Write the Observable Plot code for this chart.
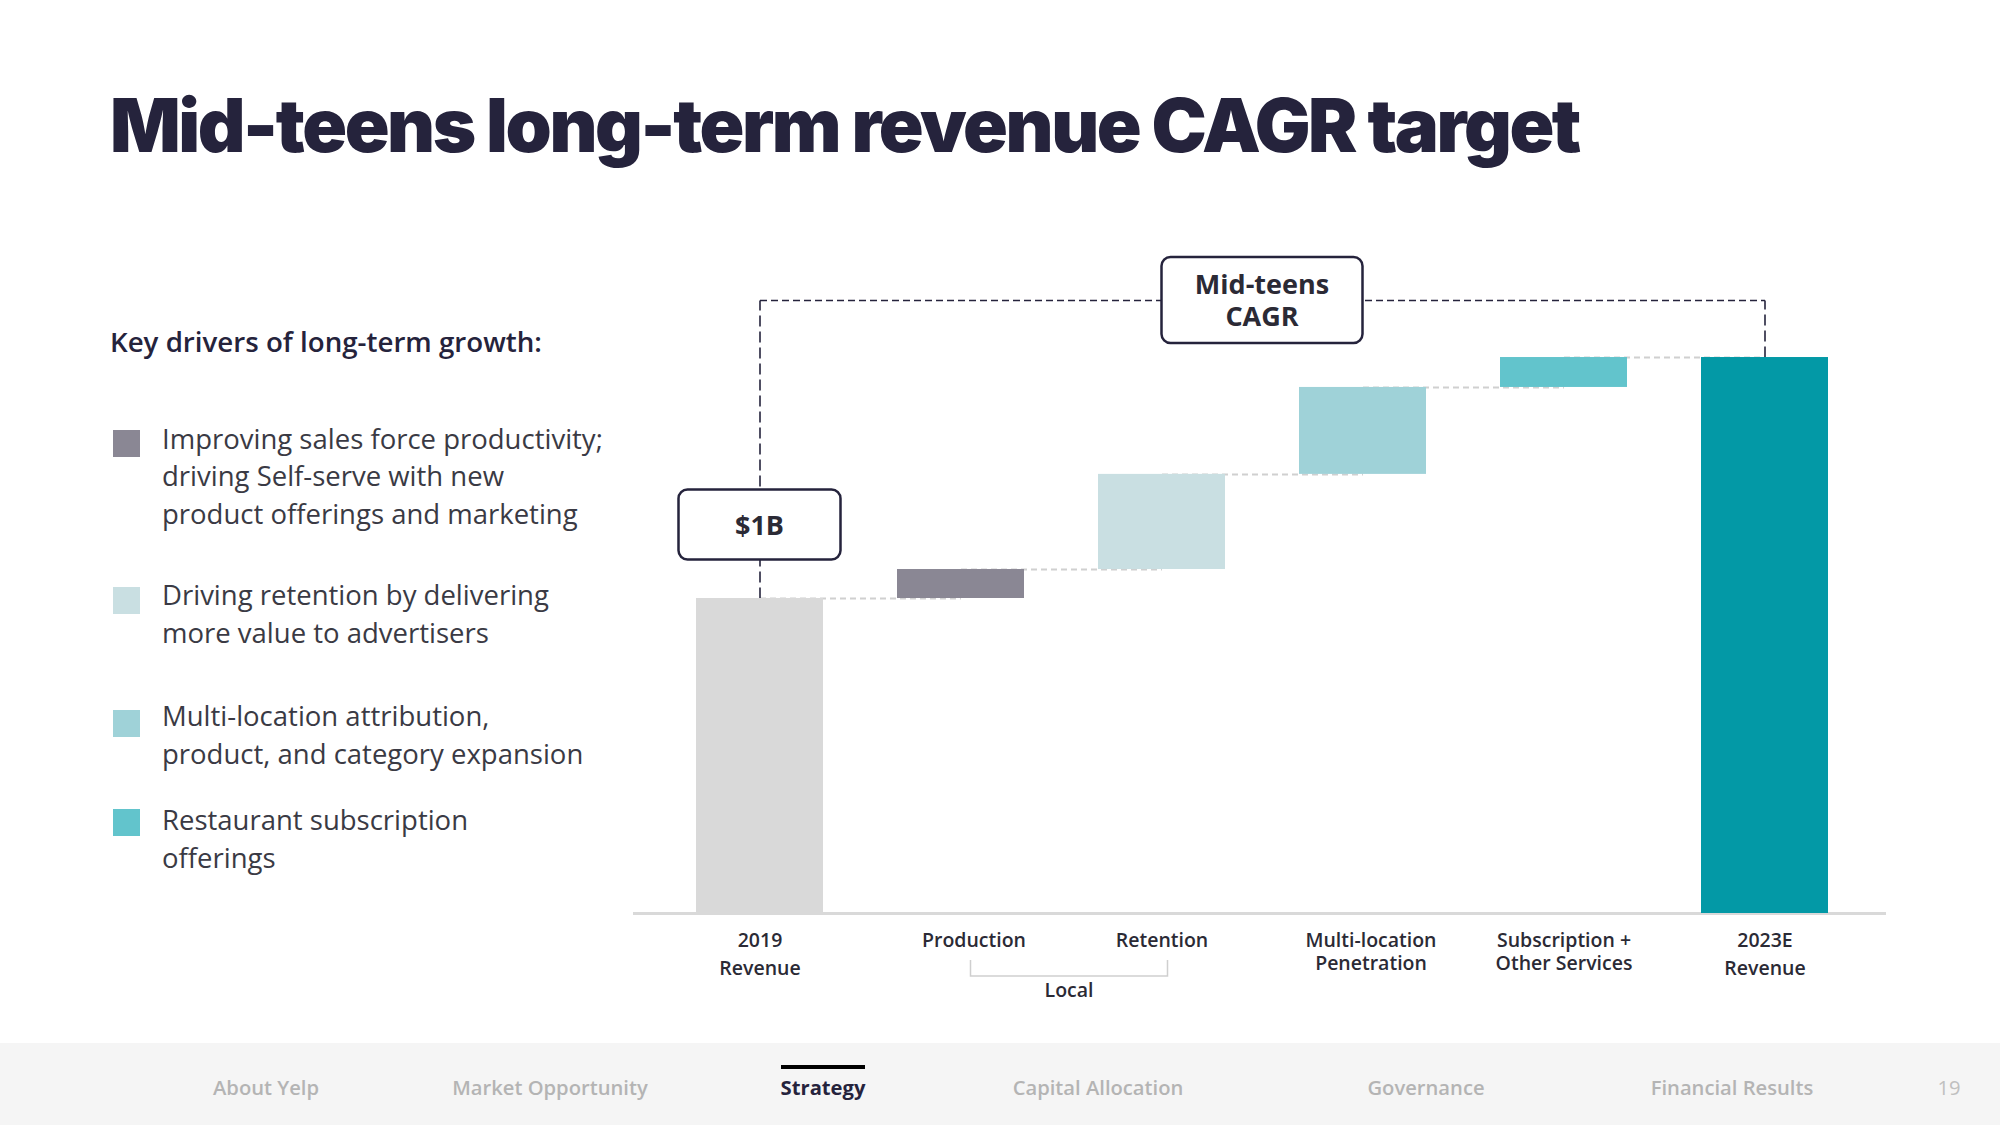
<!DOCTYPE html>
<html>
<head>
<meta charset="utf-8">
<script src="https://cdn.jsdelivr.net/npm/d3@7"></script>
<script src="https://cdn.jsdelivr.net/npm/@observablehq/plot@0.6"></script>
<style>
html, body { margin: 0; padding: 0; background: #fff; }
#page { position: relative; width: 2000px; height: 1125px; overflow: hidden; font-family: "Open Sans", sans-serif; background: #fff; }
#title { position: absolute; left: 110px; top: 88px; font-family: Inter, "Open Sans", sans-serif; font-weight: 900; font-size: 74px; line-height: 1; color: #25233c; white-space: nowrap; }
#heading { position: absolute; left: 110px; top: 327.5px; font-size: 27.7px; font-weight: 600; line-height: 1; color: #25233c; white-space: nowrap; }
.item { position: absolute; left: 162px; font-size: 27.5px; line-height: 37.5px; color: #3a3a44; white-space: pre-line; }
.sw { position: absolute; left: 113px; width: 27px; height: 27px; }
#chart { position: absolute; left: 620px; top: 240px; }
#footer { position: absolute; left: 0; top: 1043px; width: 2000px; height: 82px; background: #f5f5f5; }
.nav { position: absolute; top: 34px; transform: translateX(-50%); font-size: 20.2px; font-weight: 600; color: #b4b4b4; white-space: nowrap; line-height: 1; }
.nav.active { color: #25233c; font-weight: 700; }
.bar { position: absolute; top: 22px; height: 4px; background: #000; }
</style>
</head>
<body>
<div id="page">
  <div id="title">Mid-teens long-term revenue CAGR target</div>
  <div id="heading">Key drivers of long-term growth:</div>
  <div id="legend"></div>
  <div id="chart"></div>
  <div id="footer"></div>
</div>
<script>
// ---------- Data ----------
const categories = ["2019 Revenue", "Production", "Retention", "Multi-location Penetration", "Subscription + Other Services", "2023E Revenue"];
const tickLabels = ["2019\nRevenue", "Production", "Retention", "Multi-location\nPenetration", "Subscription +\nOther Services", "2023E\nRevenue"];
const kinds = ["total", "delta", "delta", "delta", "delta", "total"];
const values = [1.0, 0.092, 0.302, 0.276, 0.095, 1.765]; // $B
const groupLabel = "Local";
const groupMembers = ["Production", "Retention"];
const startLabel = "$1B";
const cagrLabel = "Mid-teens\nCAGR";
const legendCategories = ["Production", "Retention", "Multi-location Penetration", "Subscription + Other Services"];
const legendLabels = [
  "Improving sales force productivity;\ndriving Self-serve with new\nproduct offerings and marketing",
  "Driving retention by delivering\nmore value to advertisers",
  "Multi-location attribution,\nproduct, and category expansion",
  "Restaurant subscription\nofferings"
];
const navLabels = ["About Yelp", "Market Opportunity", "Strategy", "Capital Allocation", "Governance", "Financial Results"];
const activeNav = "Strategy";
const pageNumber = "19";

// ---------- Styles / layout ----------
const barColors = ["#d9d9d9", "#8a8794", "#c9dfe2", "#9fd2d8", "#62c4cc", "#0399a6"];
const ink = "#25233c";
const cagrLevel = 1.946;     // annotation level, $B units
const startBoxLevel = 1.233; // annotation level, $B units
const legendTops = [419.6, 576.3, 697.3, 801.3];
const legendSwatchTops = [429.6, 586.5, 709.6, 809];
const labelShift = [0, 13, 0, 8, 0, 0];
const navX = [266, 550, 823, 1098, 1426, 1732];

// ---------- Derived table ----------
let run = 0;
const rows = categories.map((c, i) => {
  let y1, y2;
  if (kinds[i] === "total") { y1 = 0; y2 = values[i]; }
  else { y1 = run; y2 = run + values[i]; }
  run = y2;
  return {name: c, label: tickLabels[i], y1, y2};
});
const connectors = rows.slice(0, -1).map((r, i) => ({x1: r.name, x2: rows[i + 1].name, y: r.y2}));
const first = rows[0], last = rows[rows.length - 1];
const bracketLinks = [
  {x1: first.name, x2: first.name, y1: first.y2, y2: cagrLevel},
  {x1: last.name, x2: last.name, y1: last.y2, y2: cagrLevel}
];
const topLink = [{x1: first.name, x2: last.name, y: cagrLevel}];

const center = (x, c) => x(c) + x.bandwidth() / 2;

function boxMark(index, scales, values, dims) {
  const {x, y} = scales;
  const g = d3.create("svg:g");
  const drawBox = (cx, cy, w, h, label) => {
    const lines = label.split("\n");
    g.append("rect").attr("x", cx - w / 2).attr("y", cy - h / 2).attr("width", w).attr("height", h)
      .attr("rx", 9).attr("fill", "#fff").attr("stroke", ink).attr("stroke-width", 2.5);
    const t = g.append("text").attr("text-anchor", "middle").attr("font-family", "Open Sans")
      .attr("font-weight", 700).attr("font-size", 27).attr("fill", "#2b2a35");
    lines.forEach((s, k) => {
      t.append("tspan").attr("x", cx).attr("y", cy + (k - (lines.length - 1) / 2) * 32.5 + 10).text(s);
    });
  };
  const midX = (center(x, categories[2]) + center(x, categories[3])) / 2;
  drawBox(midX, y(cagrLevel), 201, 86, cagrLabel);
  drawBox(center(x, first.name), y(startBoxLevel), 162, 70, startLabel);
  return g.node();
}

function groupMark(index, scales, values, dims) {
  const {x} = scales;
  const bottom = dims.height - dims.marginBottom;
  const xa = center(x, groupMembers[0]) + 10, xb = center(x, groupMembers[1]) + 6;
  const g = d3.create("svg:g");
  g.append("path").attr("d", `M${xa},${bottom + 47}V${bottom + 63}H${xb}V${bottom + 47}`)
    .attr("fill", "none").attr("stroke", "#cfcfcf").attr("stroke-width", 1.5);
  g.append("text").attr("x", (xa + xb) / 2).attr("y", bottom + 84).attr("text-anchor", "middle")
    .attr("font-family", "Open Sans").attr("font-weight", 600).attr("font-size", 19.5).attr("fill", "#2b2a35").text(groupLabel);
  return g.node();
}

const labelFont = {fontFamily: "Open Sans", fontWeight: 600, fontSize: 19.5, fill: "#2b2a35", frameAnchor: "bottom", lineAnchor: "top"};
const isRevenue = r => /Revenue/.test(r.name);
const labelMarks = rows.map((r, i) =>
  Plot.text([r], {x: "name", text: "label", ...labelFont,
    lineHeight: isRevenue(r) ? 1.4 : 1.19,
    dy: isRevenue(r) ? 14.6 : 17,
    dx: labelShift[i]})
);

const plot = Plot.plot({
  width: 1300,
  height: 780,
  marginLeft: 13,
  marginRight: 34,
  marginTop: 11.5,
  marginBottom: 107,
  style: {fontFamily: "Open Sans", background: "transparent", overflow: "visible"},
  x: {type: "band", domain: categories, range: [2, 1282], padding: 0.368, axis: null},
  y: {domain: [0, 2.1], axis: null},
  color: {domain: categories, range: barColors},
  marks: [
    Plot.ruleY([0], {stroke: "#d9d9d9", strokeWidth: 3}),
    Plot.link(connectors, {x1: "x1", x2: "x2", y1: "y", y2: "y", stroke: "#d0d0d0", strokeWidth: 2, strokeDasharray: "6,4"}),
    Plot.link(bracketLinks, {x1: "x1", x2: "x2", y1: "y1", y2: "y2", stroke: ink, strokeWidth: 1.6, strokeDasharray: "11,5"}),
    Plot.link(topLink, {x1: "x1", x2: "x2", y1: "y", y2: "y", stroke: ink, strokeWidth: 1.6, strokeDasharray: "7,4"}),
    Plot.barY(rows, {x: "name", y1: "y1", y2: "y2", fill: "name"}),
    boxMark,
    ...labelMarks,
    groupMark
  ]
});
document.getElementById("chart").appendChild(plot);

// ---------- Legend (colors from the chart's color scale) ----------
const colorScale = plot.scale("color");
const legend = document.getElementById("legend");
legendCategories.forEach((c, i) => {
  const sw = document.createElement("div");
  sw.className = "sw";
  sw.style.top = legendSwatchTops[i] + "px";
  sw.style.background = colorScale.apply(c);
  legend.appendChild(sw);
  const t = document.createElement("div");
  t.className = "item";
  t.style.top = legendTops[i] + "px";
  t.textContent = legendLabels[i];
  legend.appendChild(t);
});

// ---------- Footer ----------
const footer = document.getElementById("footer");
navLabels.forEach((n, i) => {
  const d = document.createElement("div");
  d.className = "nav" + (n === activeNav ? " active" : "");
  d.style.left = navX[i] + "px";
  d.textContent = n;
  footer.appendChild(d);
  if (n === activeNav) {
    const b = document.createElement("div");
    b.className = "bar";
    footer.appendChild(b);
    const w = d.getBoundingClientRect().width;
    b.style.left = (navX[i] - w / 2) + "px";
    b.style.width = w + "px";
  }
});
const pn = document.createElement("div");
pn.className = "nav";
pn.style.left = "1949px";
pn.style.fontWeight = 400;
pn.style.color = "#c0c0c0";
pn.textContent = pageNumber;
footer.appendChild(pn);

// ---------- Title width fit ----------
function fitTitle() {
  const t = document.getElementById("title");
  t.style.letterSpacing = "0px";
  const w = t.getBoundingClientRect().width;
  const n = t.textContent.length;
  t.style.letterSpacing = ((1469 - w) / n) + "px";
}
fitTitle();
if (document.fonts && document.fonts.ready) document.fonts.ready.then(fitTitle);
</script>
</body>
</html>
